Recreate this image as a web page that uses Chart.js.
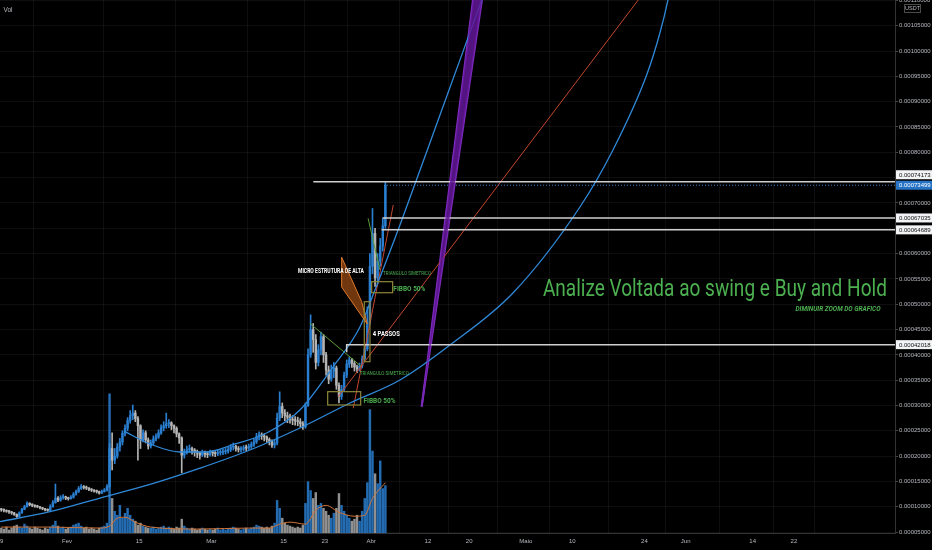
<!DOCTYPE html>
<html>
<head>
<meta charset="utf-8">
<script src="https://cdn.jsdelivr.net/npm/chart.js@4.4.1/dist/chart.umd.min.js"></script>
<style>
html,body{margin:0;padding:0;background:#000;overflow:hidden}
#c{display:block}
</style>
</head>
<body>
<canvas id="c" width="932" height="550"></canvas>
<script>
// ================= DATA =================
// time axis in days of 2021 (0 = 1 Jan); 12h candles
const CANDLE_START_DAY = 18.25;
const CANDLE_STEP_DAYS = 0.5;
const FIRST_OPEN = 95e-6;

const CLOSE = [
 94e-6,93e-6,91e-6,90e-6,88e-6,85e-6,81e-6,88e-6,95e-6,100e-6,
 107e-6,104e-6,103e-6,101e-6,100e-6,98e-6,96e-6,94e-6,93e-6,100e-6,
 108e-6,117e-6,113e-6,118e-6,120e-6,117e-6,116e-6,119e-6,125e-6,130e-6,
 136e-6,140e-6,138e-6,137e-6,134e-6,133e-6,131e-6,130e-6,127e-6,130e-6,
 133e-6,140e-6,215e-6,192e-6,200e-6,218e-6,228e-6,245e-6,255e-6,270e-6,
 280e-6,285e-6,274e-6,260e-6,232e-6,246e-6,232e-6,220e-6,226e-6,234e-6,
 238e-6,246e-6,256e-6,260e-6,264e-6,266e-6,260e-6,255e-6,244e-6,236e-6,
 202e-6,208e-6,213e-6,215e-6,212e-6,209e-6,206e-6,202e-6,207e-6,204e-6,
 203e-6,208e-6,206e-6,205e-6,207e-6,207e-6,209e-6,210e-6,213e-6,218e-6,
 219e-6,215e-6,213e-6,214e-6,217e-6,216e-6,219e-6,223e-6,228e-6,238e-6,
 242e-6,240e-6,238e-6,233e-6,229e-6,222e-6,226e-6,275e-6,298e-6,285e-6,
 280e-6,277e-6,273e-6,271e-6,270e-6,268e-6,264e-6,258e-6,300e-6,400e-6,
 450e-6,430e-6,385e-6,410e-6,436e-6,400e-6,370e-6,352e-6,368e-6,374e-6,
 340e-6,318e-6,332e-6,360e-6,382e-6,390e-6,383e-6,376e-6,372e-6,378e-6,
 392e-6,412e-6,465e-6,575e-6,640e-6,552e-6,585e-6,615e-6,655e-6,735e-6
];
const HIGH = [
 97e-6,96e-6,94e-6,93e-6,91e-6,89e-6,86e-6,90e-6,97e-6,103e-6,
 110e-6,108e-6,106e-6,104e-6,103e-6,101e-6,99e-6,97e-6,96e-6,104e-6,
 112e-6,145e-6,120e-6,122e-6,124e-6,121e-6,119e-6,122e-6,128e-6,133e-6,
 140e-6,144e-6,142e-6,141e-6,138e-6,136e-6,134e-6,133e-6,131e-6,133e-6,
 136e-6,144e-6,225e-6,246e-6,215e-6,225e-6,235e-6,250e-6,262e-6,276e-6,
 290e-6,301e-6,290e-6,278e-6,262e-6,252e-6,250e-6,236e-6,232e-6,240e-6,
 244e-6,252e-6,262e-6,268e-6,285e-6,272e-6,268e-6,262e-6,258e-6,246e-6,
 238e-6,214e-6,220e-6,222e-6,218e-6,215e-6,212e-6,208e-6,212e-6,210e-6,
 208e-6,212e-6,211e-6,209e-6,212e-6,213e-6,214e-6,215e-6,218e-6,223e-6,
 226e-6,222e-6,219e-6,219e-6,221e-6,222e-6,224e-6,228e-6,234e-6,245e-6,
 248e-6,246e-6,244e-6,240e-6,236e-6,232e-6,232e-6,285e-6,327e-6,305e-6,
 292e-6,287e-6,283e-6,280e-6,278e-6,277e-6,274e-6,268e-6,305e-6,412e-6,
 479e-6,462e-6,440e-6,420e-6,445e-6,440e-6,405e-6,378e-6,380e-6,385e-6,
 378e-6,345e-6,340e-6,366e-6,390e-6,396e-6,393e-6,387e-6,380e-6,384e-6,
 398e-6,420e-6,495e-6,600e-6,689e-6,650e-6,600e-6,630e-6,670e-6,742e-6
];
const LOW = [
 91e-6,90e-6,89e-6,87e-6,85e-6,83e-6,79e-6,80e-6,87e-6,94e-6,
 99e-6,102e-6,100e-6,99e-6,98e-6,96e-6,94e-6,92e-6,91e-6,92e-6,
 99e-6,107e-6,110e-6,111e-6,115e-6,114e-6,113e-6,115e-6,117e-6,123e-6,
 128e-6,134e-6,135e-6,134e-6,132e-6,130e-6,129e-6,127e-6,125e-6,126e-6,
 129e-6,131e-6,138e-6,173e-6,185e-6,196e-6,210e-6,222e-6,240e-6,250e-6,
 265e-6,272e-6,268e-6,192e-6,215e-6,228e-6,226e-6,214e-6,216e-6,222e-6,
 230e-6,235e-6,243e-6,250e-6,255e-6,256e-6,252e-6,246e-6,238e-6,225e-6,
 167e-6,196e-6,204e-6,207e-6,204e-6,200e-6,197e-6,194e-6,199e-6,198e-6,
 197e-6,200e-6,200e-6,199e-6,201e-6,202e-6,203e-6,204e-6,206e-6,209e-6,
 212e-6,210e-6,208e-6,208e-6,210e-6,211e-6,213e-6,215e-6,219e-6,225e-6,
 232e-6,233e-6,230e-6,227e-6,222e-6,217e-6,216e-6,222e-6,270e-6,276e-6,
 270e-6,266e-6,265e-6,262e-6,261e-6,260e-6,257e-6,253e-6,255e-6,298e-6,
 395e-6,405e-6,372e-6,378e-6,400e-6,385e-6,360e-6,343e-6,348e-6,355e-6,
 332e-6,305e-6,312e-6,328e-6,355e-6,375e-6,375e-6,368e-6,365e-6,368e-6,
 374e-6,388e-6,408e-6,460e-6,560e-6,535e-6,540e-6,575e-6,605e-6,650e-6
];
// volume (arbitrary units)
const VOLUME = [
 5,4,6,3,5,7,8,6,5,9,7,5,4,6,5,4,3,5,4,6,8,
 12,
 7,5,6,4,5,6,8,9,
 10,7,5,6,4,5,4,3,5,6,7,10,
 141,
 35,22,18,28,15,20,25,18,14,12,
 8,10,7,6,5,5,6,4,5,6,7,5,6,5,4,6,5,
 14,
 7,5,4,5,4,3,4,5,4,3,4,3,4,5,3,4,3,4,5,6,5,4,3,4,5,4,5,6,8,7,6,5,6,5,7,
 10,33,25,15,
 10,8,7,6,5,6,5,8,
 30,52,43,35,41,28,30,25,22,18,15,20,25,40,28,22,18,15,12,14,18,12,22,35,51,125,83,60,50,73,45,48
];
// volume moving average read at some candles
const VOL_MA_IDX = [0,19,38,42,45,48,52,58,77,96,104,108,112,118,122,126,131,137,141,144,149];
const VOL_MA     = [6,6,5,7,15,16,11,6,4,5,5,9,11,9,23,28,21,17,18,35,51];

// axes
const X_MIN = 18, X_MAX = 191.6;
const Y_MIN = 0.0000482, Y_MAX = 0.0011008;
const X_TICK_DAYS   = [18,31,45,59,73,81,90,101,109,120,129,143,151,164,172];
const X_TICK_LABELS = ['19','Fev','15','Mar','15','23','Abr','12','20','Maio','10','24','Jun','14','22'];
const PRICE_TICKS = [0.00005,0.0001,0.00015,0.0002,0.00025,0.0003,0.00035,0.0004,0.00045,0.0005,0.00055,
                     0.0006,0.00065,0.0007,0.00075,0.0008,0.00085,0.0009,0.00095,0.001,0.00105,0.0011];

// horizontal levels and last price
const LEVELS       = [0.00074173, 0.00067035, 0.00064689, 0.00042018];
const LEVEL_START  = [78.77, 92.22, 92.03, 85.24];
const LAST_PRICE   = 0.00073499;
const LAST_DAY     = 92.5;

// drawings (day, price)
const LOWER_ARC_D = [18,27.70,37.40,47.09,56.79,66.49,76.18,85.88,95.58,105.28,117.50,130.49,136.89,143.43,146.0,147.56,148.3];
const LOWER_ARC_P = [0.0000705,0.0000903,0.0001173,0.000144,0.0001762,0.0002121,0.0002556,0.000305,0.0003504,0.0004195,0.0005222,0.000692,0.0008045,0.0009526,0.0010356,0.0011008,0.00114];
const UPPER_ARC_D = [42.24,47.09,52.91,57.76,63.58,69.73,76.18,82.58,87.82,90.73,95.58,103.34,111.43];
const UPPER_ARC_P = [0.0002483,0.000224,0.0002082,0.0002082,0.000224,0.0002457,0.0002911,0.000376,0.000455,0.0005281,0.0006564,0.0008737,0.0011008];
const RED_A_D = [86.52, 94.28],  RED_A_P = [0.0002947, 0.0006959];
const RED_B_D = [83.61, 141.8],  RED_B_P = [0.0003174, 0.0011008];
const PURPLE_1_D = [99.79, 109.74], PURPLE_1_P = [0.0002976, 0.0011008];
const PURPLE_2_D = [99.79, 111.48], PURPLE_2_P = [0.0002976, 0.0011008];
const TRI_1_D = [78.1, 88.2], TRI_1_P = [0.0004623, 0.000376];
const TRI_2_D = [89.4, 91.7], TRI_2_P = [0.0006695, 0.0005675];
const ORANGE_POLY_D = [84.27, 84.27, 89.24, 88.15];
const ORANGE_POLY_P = [0.0005927, 0.000534, 0.0004608, 0.000505];
const BOXES_D0 = [81.56, 90.09, 88.66], BOXES_D1 = [87.96, 94.16, 89.76];
const BOXES_P0 = [0.0003273, 0.0005445, 0.000505], BOXES_P1 = [0.000301, 0.0005227, 0.0003865];
const NOTE_TEXT = ['Analize Voltada ao swing e Buy and Hold','DIMINUIR ZOOM DO GRAFICO','MICRO ESTRUTURA DE ALTA',
                   'TRIANGULO SIMETRICO','FIBBO 50%','4 PASSOS','TRIANGULO SIMETRICO','FIBBO 50%'];
const NOTE_D = [123.3, 172.3, 75.8, 92.3, 94.3, 90.3, 87.8, 88.5];
const NOTE_P = [0.0005162, 0.0004876, 0.0005607, 0.0005577, 0.0005261, 0.0004363, 0.0003612, 0.0003049];

// ================= STYLE =================
const UP = '#2a7fd0', DOWN = '#b4b4b4';
const UP_V = 'rgba(42,127,208,0.85)', DOWN_V = 'rgba(180,180,180,0.8)';
const GREEN = '#4caf50';
const GRID = 'rgba(255,255,255,0.055)';
const AXIS_TXT = '#b6b8be';
const LEVEL_COL = '#cfcfcf';
const ARC_COL = '#2f89d9';
const NOTE_STYLE = [
  {size:23, weight:'normal', color:GREEN, w:344, fam:'Roboto'},
  {size:6.5, weight:'bold', italic:true, color:GREEN, w:85, fam:'Roboto'},
  {size:6.5, weight:'bold', color:'#ffffff', w:66, fam:'Roboto'},
  {size:5, weight:'normal', color:GREEN, w:48, fam:'Roboto'},
  {size:8, weight:'bold', color:GREEN, w:32, fam:'Roboto'},
  {size:7, weight:'bold', color:'#ffffff', w:27, fam:'Roboto'},
  {size:5, weight:'normal', color:GREEN, w:49, fam:'Roboto'},
  {size:8, weight:'bold', color:GREEN, w:32, fam:'Roboto'}
];

// ================= BUILD =================
const DAYS = CLOSE.map((_, i) => CANDLE_START_DAY + i * CANDLE_STEP_DAYS);
const OPEN = CLOSE.map((c, i) => i === 0 ? FIRST_OPEN : CLOSE[i - 1]);
const isUp = i => CLOSE[i] >= OPEN[i];

function pts(xs, ys) { return xs.map((x, i) => ({x, y: ys[i]})); }
function lineDs(xs, ys, color, width, extra) {
  return Object.assign({type:'line', data: pts(xs, ys), borderColor: color, borderWidth: width,
    pointRadius: 0, fill: false, tension: 0, order: 2, yAxisID: 'y'}, extra || {});
}

const datasets = [];
// level lines
LEVELS.forEach((lv, k) => {
  const xs = k === 3 ? [LEVEL_START[k], LEVEL_START[k], 200] : [LEVEL_START[k], 200];
  const ys = k === 3 ? [0.000405, lv, lv] : [lv, lv];
  datasets.push(lineDs(xs, ys, LEVEL_COL, 1.5, {order: 1}));
});
datasets.push(lineDs([LAST_DAY, 200], [LAST_PRICE, LAST_PRICE], '#3d86cf', 1, {borderDash:[1,2], order:1}));
// drawings
datasets.push(lineDs(LOWER_ARC_D, LOWER_ARC_P, ARC_COL, 1.3, {cubicInterpolationMode:'monotone'}));
datasets.push(lineDs(UPPER_ARC_D, UPPER_ARC_P, ARC_COL, 1.3, {cubicInterpolationMode:'monotone'}));
datasets.push(lineDs(RED_A_D, RED_A_P, '#c4462e', 1));
datasets.push(lineDs(RED_B_D, RED_B_P, '#c4462e', 1));
datasets.push(lineDs(PURPLE_1_D, PURPLE_1_P, '#7d2bbd', 2));
datasets.push(lineDs(PURPLE_2_D, PURPLE_2_P, '#7d2bbd', 2));
datasets.push(lineDs(TRI_1_D, TRI_1_P, '#5c9e3a', 1));
datasets.push(lineDs(TRI_2_D, TRI_2_P, '#5c9e3a', 1));
// candles
datasets.push({type:'bar', yAxisID:'y', grouped:false, order:6, barThickness:1,
  data: DAYS.map((d, i) => ({x: d, y: [LOW[i], HIGH[i]]})),
  backgroundColor: c => isUp(c.dataIndex) ? UP : DOWN, borderWidth:0});
datasets.push({type:'bar', yAxisID:'y', grouped:false, order:5, barThickness:1.8, minBarLength:1,
  data: DAYS.map((d, i) => ({x: d, y: [OPEN[i], CLOSE[i]]})),
  backgroundColor: c => isUp(c.dataIndex) ? UP : DOWN, borderWidth:0});
// volume
datasets.push({type:'bar', yAxisID:'yv', grouped:false, order:30, barThickness:1.8,
  data: DAYS.map((d, i) => ({x: d, y: VOLUME[i]})),
  backgroundColor: c => isUp(c.dataIndex) ? UP_V : DOWN_V, borderWidth:0});
datasets.push({type:'line', yAxisID:'yv', order:25, data: VOL_MA_IDX.map((k, j) => ({x: DAYS[k], y: VOL_MA[j]})),
  borderColor:'#d0743a', borderWidth:1, pointRadius:0, fill:false, cubicInterpolationMode:'monotone'});

function drawText(ctx, s, px, py, o) {
  ctx.font = (o.italic ? 'italic ' : '') + o.weight + ' ' + o.size + 'px ' + o.fam;
  const w = ctx.measureText(s).width;
  ctx.save();
  ctx.translate(px, py);
  if (o.w && w > 0) ctx.scale(o.w / w, 1);
  ctx.fillStyle = o.color;
  ctx.textBaseline = 'alphabetic';
  ctx.textAlign = 'left';
  ctx.fillText(s, 0, 0);
  ctx.restore();
}

const annot = {
  id: 'annot',
  beforeDraw(chart) {
    const ctx = chart.ctx;
    ctx.save(); ctx.fillStyle = '#000'; ctx.fillRect(0, 0, chart.width, chart.height); ctx.restore();
  },
  afterDatasetsDraw(chart) {
    const {ctx, chartArea: a} = chart;
    const X = chart.scales.x, Y = chart.scales.y;
    ctx.save();
    ctx.beginPath(); ctx.rect(a.left, a.top, a.right - a.left, a.bottom - a.top); ctx.clip();
    // purple band
    ctx.beginPath();
    ctx.moveTo(X.getPixelForValue(PURPLE_1_D[0]), Y.getPixelForValue(PURPLE_1_P[0]));
    ctx.lineTo(X.getPixelForValue(PURPLE_1_D[1]), Y.getPixelForValue(PURPLE_1_P[1]));
    ctx.lineTo(X.getPixelForValue(PURPLE_2_D[1]), Y.getPixelForValue(PURPLE_2_P[1]));
    ctx.closePath();
    ctx.fillStyle = 'rgba(98,22,150,0.85)'; ctx.fill();
    // orange polygon
    ctx.beginPath();
    ORANGE_POLY_D.forEach((d, i) => {
      const px = X.getPixelForValue(d), py = Y.getPixelForValue(ORANGE_POLY_P[i]);
      i ? ctx.lineTo(px, py) : ctx.moveTo(px, py);
    });
    ctx.closePath();
    ctx.fillStyle = 'rgba(150,72,18,0.75)'; ctx.fill();
    ctx.strokeStyle = '#e07a2c'; ctx.lineWidth = 1; ctx.stroke();
    // boxes
    ctx.strokeStyle = '#8f873a'; ctx.lineWidth = 1.2;
    BOXES_D0.forEach((d0, i) => {
      const x0 = X.getPixelForValue(d0), x1 = X.getPixelForValue(BOXES_D1[i]);
      const y0 = Y.getPixelForValue(BOXES_P0[i]), y1 = Y.getPixelForValue(BOXES_P1[i]);
      ctx.strokeRect(x0, y0, x1 - x0, y1 - y0);
    });
    // notes
    NOTE_TEXT.forEach((t, i) => drawText(ctx, t, X.getPixelForValue(NOTE_D[i]), Y.getPixelForValue(NOTE_P[i]), NOTE_STYLE[i]));
    ctx.restore();
  },
  afterDraw(chart) {
    const ctx = chart.ctx, Y = chart.scales.y, a = chart.chartArea;
    const labs = LEVELS.map(v => ({v, bg:'#f2f3f5', fg:'#111', fixed:false}));
    labs.push({v: LAST_PRICE, bg:'#2673c6', fg:'#ffffff', fixed:true});
    labs.forEach(l => l.y = Y.getPixelForValue(l.v));
    labs.sort((p, q) => p.y - q.y);
    const H = 10.5;
    for (let i = labs.length - 2; i >= 0; i--) {
      if (labs[i + 1].y - labs[i].y < H) labs[i].y = labs[i + 1].y - H;
    }
    ctx.save();
    labs.forEach(l => {
      ctx.fillStyle = l.bg;
      ctx.fillRect(a.right + 1, l.y - 4.5, 36, 9);
      ctx.fillStyle = l.fg;
      ctx.font = '6px "Liberation Sans"';
      ctx.textBaseline = 'middle'; ctx.textAlign = 'left';
      ctx.fillText(l.v.toFixed(8), a.right + 4, l.y + 0.5);
    });
    // USDT box
    ctx.strokeStyle = '#4a4a4a'; ctx.lineWidth = 1;
    ctx.strokeRect(904.5, 4.5, 16, 8);
    ctx.fillStyle = '#000'; ctx.fillRect(905, 5, 15, 7);
    ctx.fillStyle = AXIS_TXT; ctx.font = '5.5px "Liberation Sans"'; ctx.textAlign = 'center';
    ctx.fillText('USDT', 912.5, 8.7);
    // Vol
    ctx.textAlign = 'left'; ctx.textBaseline = 'alphabetic';
    ctx.font = '6.5px "Liberation Sans"'; ctx.fillStyle = AXIS_TXT;
    ctx.fillText('Vol', 3.5, 12.3);
    ctx.restore();
  }
};

const hideNear = v => LEVELS.concat([LAST_PRICE]).some(l => Math.abs(l - v) < 0.000012);

new Chart(document.getElementById('c'), {
  type: 'bar',
  data: {datasets},
  options: {
    responsive: false, devicePixelRatio: 1, animation: false,
    layout: {padding: 0},
    plugins: {legend: {display: false}, tooltip: {enabled: false}},
    scales: {
      x: {
        type: 'linear', min: X_MIN, max: X_MAX, offset: false,
        afterBuildTicks: s => { s.ticks = X_TICK_DAYS.map(v => ({value: v})); },
        afterFit: s => { s.height = 17; s.paddingLeft = 0; s.paddingRight = 0; },
        ticks: {callback: v => X_TICK_LABELS[X_TICK_DAYS.indexOf(v)], color: AXIS_TXT,
                font: {size: 6, family: 'Liberation Sans'}, maxRotation: 0, autoSkip: false, padding: 5},
        grid: {color: GRID, drawTicks: false},
        border: {display: true, color: '#333333'}
      },
      y: {
        type: 'linear', position: 'right', min: Y_MIN, max: Y_MAX,
        afterBuildTicks: s => { s.ticks = PRICE_TICKS.map(v => ({value: v})); },
        afterFit: s => { s.width = 37; s.paddingTop = 0; s.paddingBottom = 0; },
        ticks: {callback: v => hideNear(v) ? '' : v.toFixed(8), color: AXIS_TXT,
                font: {size: 6, family: 'Liberation Sans'}, padding: 1, autoSkip: false},
        grid: {color: GRID, tickLength: 3, tickColor: '#444'},
        border: {display: true, color: '#333333'}
      },
      yv: {type: 'linear', display: false, min: 0, max: 540}
    }
  },
  plugins: [annot]
});
</script>
</body>
</html>
